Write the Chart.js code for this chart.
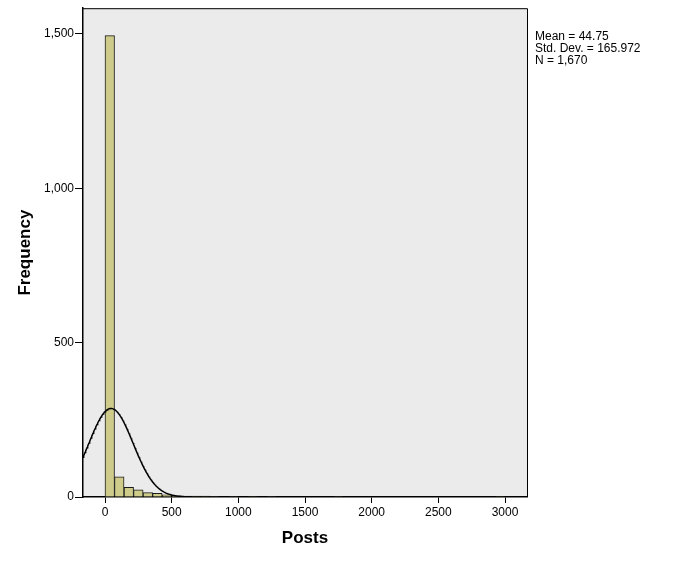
<!DOCTYPE html>
<html>
<head>
<meta charset="utf-8">
<script src="https://cdn.jsdelivr.net/npm/chart.js@4.4.1/dist/chart.umd.min.js"></script>
<style>
  body { margin: 0; background: #fff; }
  #wrap { width: 673px; height: 563px; }
</style>
</head>
<body>
<div id="wrap"><canvas id="Chart" width="673" height="563"></canvas></div>
<script>
// histogram of Posts, 42 bins between 0 and 3000
let binMin = 0;
let binMax = 3000;
let counts = [1494, 65, 31, 23, 14, 12, 7, 4, 3, 3, 3, 2, 0, 2, 0, 2, 0, 2, 0, 0, 0,
              0, 0, 0, 2, 0, 0, 0, 0, 0, 0, 0, 0, 0, 0, 0, 0, 0, 0, 0, 0, 1];
let xTicks = [0, 500, 1000, 1500, 2000, 2500, 3000];
let yTicks = [0, 500, 1000, 1500];
// statistics printed beside the plot
let mean = 44.75;
let stdDev = 165.972;
let n = 1670;
let statLines = ['Mean = 44.75', 'Std. Dev. = 165.972', 'N = 1,670'];

let binWidth = (binMax - binMin) / counts.length;
let barData = counts.map((c, i) => ({ x: binMin + binWidth * (i + 0.5), y: c }));

// fitted normal curve from mean / sd / N shown on the chart
let curveData = [];
for (let x = -165; x <= 3165; x += 5) {
  let z = (x - mean) / stdDev;
  curveData.push({ x: x, y: n * binWidth * Math.exp(-0.5 * z * z) / (stdDev * Math.sqrt(2 * Math.PI)) });
}

let plotBg = {
  id: 'plotBg',
  beforeDraw(chart) {
    let a = chart.chartArea, ctx = chart.ctx;
    ctx.save();
    ctx.fillStyle = '#ebebeb';
    ctx.fillRect(a.left, a.top, a.right - a.left, a.bottom - a.top);
    ctx.restore();
  },
  afterDraw(chart) {
    let a = chart.chartArea, ctx = chart.ctx;
    ctx.save();
    ctx.strokeStyle = '#000';
    ctx.lineWidth = 1;
    ctx.beginPath();
    ctx.moveTo(a.left, a.top + 0.5);
    ctx.lineTo(a.right + 0.5, a.top + 0.5);
    ctx.lineTo(a.right + 0.5, a.bottom);
    ctx.stroke();
    ctx.fillStyle = '#000';
    ctx.font = '12px "Liberation Sans", Arial, sans-serif';
    ctx.textBaseline = 'alphabetic';
    statLines.forEach((t, i) => ctx.fillText(t, a.right + 8, 40 + i * 12));
    ctx.restore();
  }
};

let ctx = document.getElementById('Chart');
let config = {
  data: {
    datasets: [{
      type: 'line',
      data: curveData,
      borderColor: '#000',
      borderWidth: 1.5,
      pointRadius: 0,
      tension: 0,
      fill: false
    }, {
      type: 'bar',
      data: barData,
      backgroundColor: '#cfcb8b',
      borderColor: '#1a1a1a',
      borderWidth: 1,
      barPercentage: 1,
      categoryPercentage: 1
    }]
  },
  options: {
    responsive: false,
    animation: false,
    layout: { padding: { top: 6, right: 146, left: 0, bottom: 0 } },
    plugins: { legend: { display: false }, tooltip: { enabled: false } },
    scales: {
      x: {
        type: 'linear',
        min: -165,
        max: 3165,
        offset: false,
        afterFit(s) { s.height = 66; },
        afterBuildTicks(s) { s.ticks = xTicks.map(v => ({ value: v })); },
        grid: { display: true, drawOnChartArea: false, drawTicks: true, tickLength: 6, color: '#000', offset: false },
        border: { display: true, color: '#000', width: 1.5 },
        ticks: {
          color: '#000',
          padding: 2,
          maxRotation: 0,
          font: { family: '"Liberation Sans", Arial, sans-serif', size: 12 },
          callback: v => String(v)
        },
        title: {
          display: true,
          text: 'Posts',
          color: '#000',
          font: { family: '"Liberation Sans", Arial, sans-serif', size: 17, weight: 'bold' },
          padding: { top: 0, bottom: 14 }
        }
      },
      y: {
        min: 0,
        max: 1583,
        afterFit(s) { s.width = 83; },
        afterBuildTicks(s) { s.ticks = yTicks.map(v => ({ value: v })); },
        grid: { display: true, drawOnChartArea: false, drawTicks: true, tickLength: 8, color: '#000' },
        border: { display: true, color: '#000', width: 1.5 },
        ticks: {
          color: '#000',
          padding: 1,
          font: { family: '"Liberation Sans", Arial, sans-serif', size: 12 },
          callback: v => v.toLocaleString('en-US')
        },
        title: {
          display: true,
          text: 'Frequency',
          color: '#000',
          font: { family: '"Liberation Sans", Arial, sans-serif', size: 17, weight: 'bold' },
          padding: { top: 15, bottom: 0 }
        }
      }
    }
  },
  plugins: [plotBg]
};
let histChart = new Chart(ctx, config);
</script>
</body>
</html>
